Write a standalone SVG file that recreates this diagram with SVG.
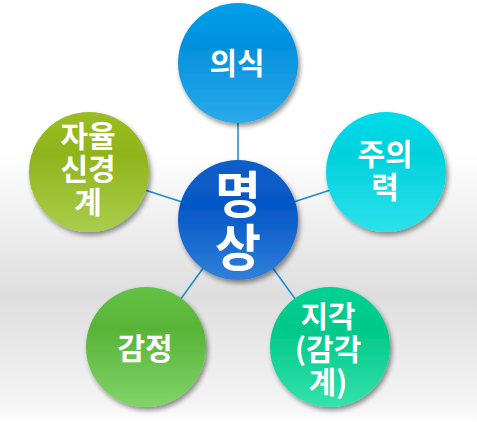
<svg xmlns="http://www.w3.org/2000/svg" width="477" height="422" viewBox="0 0 477 422">
<defs>
<linearGradient id="bg" x1="0" y1="0" x2="0" y2="1">
<stop offset="0" stop-color="#ffffff"/>
<stop offset="0.36" stop-color="#ffffff"/>
<stop offset="0.7" stop-color="#dedede"/>
<stop offset="0.97" stop-color="#f6f6f6"/>
<stop offset="1" stop-color="#ffffff"/>
</linearGradient>
<linearGradient id="gBlue" x1="0" y1="0" x2="0" y2="1">
<stop offset="0" stop-color="#06a0ea"/><stop offset="0.35" stop-color="#0390dc"/><stop offset="1" stop-color="#2aaaea"/>
</linearGradient>
<linearGradient id="gCenter" x1="0" y1="0" x2="0" y2="1">
<stop offset="0" stop-color="#0a5ec8"/><stop offset="0.4" stop-color="#0558c8"/><stop offset="1" stop-color="#3080d8"/>
</linearGradient>
<linearGradient id="gCyan" x1="0" y1="0" x2="0" y2="1">
<stop offset="0" stop-color="#00dcea"/><stop offset="0.35" stop-color="#00d0dc"/><stop offset="1" stop-color="#2ce2ec"/>
</linearGradient>
<linearGradient id="gTeal" x1="0" y1="0" x2="0" y2="1">
<stop offset="0" stop-color="#02d292"/><stop offset="0.35" stop-color="#00c888"/><stop offset="1" stop-color="#34e2ac"/>
</linearGradient>
<linearGradient id="gGreen" x1="0" y1="0" x2="0" y2="1">
<stop offset="0" stop-color="#62c244"/><stop offset="0.35" stop-color="#58b438"/><stop offset="1" stop-color="#82d468"/>
</linearGradient>
<linearGradient id="gOlive" x1="0" y1="0" x2="0" y2="1">
<stop offset="0" stop-color="#9abd22"/><stop offset="0.35" stop-color="#90b41c"/><stop offset="1" stop-color="#aacd4c"/>
</linearGradient>
<filter id="sh" x="-20%" y="-20%" width="150%" height="150%">
<feGaussianBlur in="SourceAlpha" stdDeviation="2.5"/>
<feOffset dx="2" dy="3" result="b"/>
<feComponentTransfer><feFuncA type="linear" slope="0.45"/></feComponentTransfer>
<feMerge><feMergeNode/><feMergeNode in="SourceGraphic"/></feMerge>
</filter>
</defs>
<style>
.lbl{font-family:"Noto Sans CJK KR","Noto Sans",sans-serif;font-weight:bold;fill:#ffffff;text-anchor:middle;font-size:30px}
.big{font-size:50px}
.conn line{stroke:#1a8ad4;stroke-width:1.5}
</style>
<rect x="0" y="0" width="477" height="422" fill="url(#bg)"/>
<g id="connectors" class="conn">
<line x1="238" y1="220" x2="238" y2="63"/>
<line x1="238" y1="220" x2="386" y2="172"/>
<line x1="238" y1="220" x2="330" y2="347"/>
<line x1="238" y1="220" x2="146" y2="347"/>
<line x1="238" y1="220" x2="89" y2="172"/>
</g>
<g id="node-consciousness">
<circle cx="238" cy="63" r="60" fill="url(#gBlue)" filter="url(#sh)"/>
<text class="lbl" x="237" y="74">의식</text>
</g>
<g id="node-attention">
<circle cx="386" cy="172" r="60" fill="url(#gCyan)" filter="url(#sh)"/>
<text class="lbl" x="385" y="165">주의<tspan x="385" dy="33">력</tspan></text>
</g>
<g id="node-perception">
<circle cx="330" cy="347" r="60" fill="url(#gTeal)" filter="url(#sh)"/>
<text class="lbl" x="328" y="327">지각<tspan x="328" dy="33">(감각</tspan><tspan x="328" dy="33">계)</tspan></text>
</g>
<g id="node-emotion">
<circle cx="146" cy="347" r="60" fill="url(#gGreen)" filter="url(#sh)"/>
<text class="lbl" x="145" y="359">감정</text>
</g>
<g id="node-autonomic">
<circle cx="89" cy="172" r="60" fill="url(#gOlive)" filter="url(#sh)"/>
<text class="lbl" x="88" y="147">자율<tspan x="88" dy="33">신경</tspan><tspan x="88" dy="33">계</tspan></text>
</g>
<g id="node-meditation">
<circle cx="238" cy="220" r="60" fill="url(#gCenter)" filter="url(#sh)"/>
<text class="lbl big" x="238" y="213">명<tspan x="238" dy="53">상</tspan></text>
</g>
</svg>
